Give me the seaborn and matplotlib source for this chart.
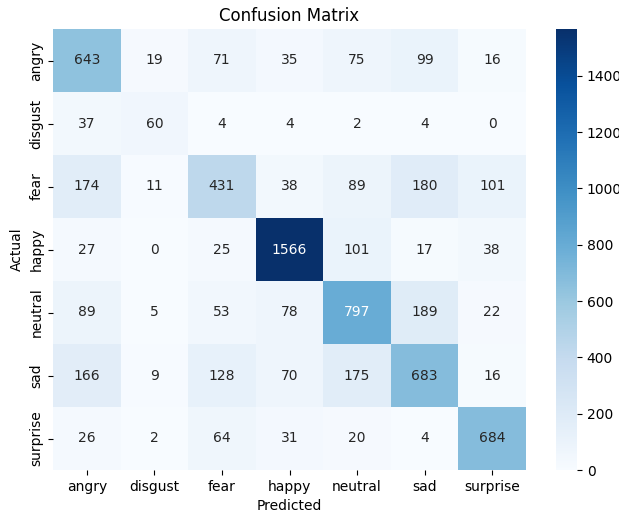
import matplotlib
matplotlib.use("Agg")
import matplotlib.pyplot as plt
import numpy as np
import seaborn as sns

labels = ["angry", "disgust", "fear", "happy", "neutral", "sad", "surprise"]

row_angry = [643, 19, 71, 35, 75, 99, 16]
row_disgust = [37, 60, 4, 4, 2, 4, 0]
row_fear = [174, 11, 431, 38, 89, 180, 101]
row_happy = [27, 0, 25, 1566, 101, 17, 38]
row_neutral = [89, 5, 53, 78, 797, 189, 22]
row_sad = [166, 9, 128, 70, 175, 683, 16]
row_surprise = [26, 2, 64, 31, 20, 4, 684]

cm = np.array([row_angry, row_disgust, row_fear, row_happy,
               row_neutral, row_sad, row_surprise])

fig = plt.figure(figsize=(6.19, 5.13), dpi=100)
ax = fig.add_axes([53 / 619, 1 - 470 / 513, 473 / 619, 441 / 513])
cax = fig.add_axes([556 / 619, 1 - 470 / 513, 21 / 619, 441 / 513])

sns.heatmap(cm, annot=True, fmt="d", cmap="Blues",
            xticklabels=labels, yticklabels=labels, ax=ax, cbar_ax=cax)

ax.set_title("Confusion Matrix")
ax.set_xlabel("Predicted")
ax.set_ylabel("Actual")

# Save to file
plt.savefig("out.png", dpi=100)
plt.close()
